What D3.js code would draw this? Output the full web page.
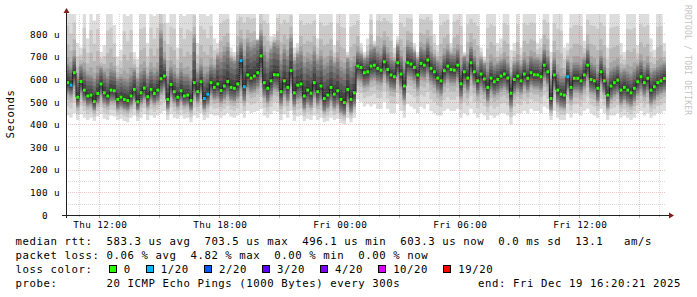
<!DOCTYPE html>
<html>
<head>
<meta charset="utf-8">
<script src="https://cdn.jsdelivr.net/npm/d3@7"></script>
<style>
  html, body { margin: 0; padding: 0; background: #fff; }
  text { font-family: "DejaVu Sans Mono", monospace; white-space: pre; }
</style>
</head>
<body>
<div id="chart"></div>
<script>
// median rtt per 10 min step, in microseconds
const median = [
  585,574,629,521,590,552,526,530,501,537,579,540,526,552,549,511,521,511,506,526,
  555,500,540,561,523,555,537,552,602,614,511,577,545,521,549,526,530,506,585,545,
  589,515,534,585,564,
  579,550,570,590,564,560,579,682,567,619,605,614,629,703,585,560,593,620,619,545,
  593,564,638,540,574,579,526,552,538,585,545,570,515,530,564,534,549,511,497,555,
  511,540,658,652,629,633,
  658,662,648,640,677,643,619,611,673,623,570,673,667,652,619,670,662,685,648,633,
  605,593,638,658,643,640,662,580,633,605,673,633,593,623,601,564,605,589,599,614,
  623,605,538,599,614,
  593,623,604,629,620,619,611,662,633,515,619,552,534,530,611,564,604,604,593,619,
  662,599,593,560,633,593,530,570,585,596,552,564,552,540,560,589,611,585,604,552,
  567,585,593,603
];
// upper quartile of the 20 pings
const upperQ = [
  665,650,700,610,660,640,620,615,600,625,650,630,610,640,635,600,610,600,595,615,
  640,600,630,645,610,640,625,640,800,690,610,650,630,610,640,620,620,600,780,630,
  660,620,630,660,650,
  700,690,720,740,690,680,720,760,700,760,740,750,770,800,720,690,730,760,750,680,
  730,700,780,680,710,720,670,690,680,720,680,700,660,670,700,670,690,650,640,690,
  650,670,720,710,690,700,
  730,740,720,710,750,715,690,680,750,700,650,750,740,720,690,740,730,760,720,700,
  680,670,710,730,710,710,730,660,700,680,740,700,660,690,670,640,680,660,670,680,
  690,670,620,670,680,
  660,690,670,700,690,690,680,730,700,600,690,630,610,610,680,640,670,670,660,690,
  730,670,660,630,700,660,610,640,650,660,630,640,630,620,640,660,680,650,670,630,
  640,650,660,670
];
// lower quartile of the 20 pings
const lowerQ = [
  540,530,570,480,540,505,485,490,465,495,530,495,485,505,505,470,480,470,465,485,
  510,465,495,515,480,510,495,505,540,560,470,525,500,480,505,485,490,465,530,500,
  540,470,490,535,515,
  520,500,515,530,510,505,520,560,505,560,545,550,565,600,525,500,530,560,555,490,
  530,505,570,485,515,520,470,495,480,525,490,510,460,475,505,475,490,455,445,495,
  455,485,600,595,570,575,
  600,605,590,585,620,585,560,555,615,565,510,615,610,595,560,610,605,625,590,575,
  550,535,580,600,585,585,605,520,575,550,615,575,535,565,545,505,550,530,540,555,
  565,550,480,540,555,
  540,570,550,575,565,565,555,605,580,465,565,495,480,475,555,510,550,550,540,565,
  605,545,540,505,580,540,475,515,530,540,495,510,495,485,505,535,555,530,550,495,
  510,530,540,550
];
// fastest ping
const minPing = [
  440,430,450,420,445,430,420,430,415,435,445,425,420,440,435,420,425,415,410,430,
  440,415,430,445,420,440,430,440,450,460,420,445,430,425,440,425,430,410,440,430,
  450,420,430,445,440,
  440,430,440,450,435,430,440,450,430,460,450,455,460,470,440,430,445,460,455,420,
  445,430,460,415,435,440,415,425,420,440,420,430,410,415,430,420,425,405,400,430,
  410,430,510,500,480,490,
  480,490,470,470,500,470,450,450,490,460,430,490,480,470,450,480,470,490,460,450,
  440,440,460,470,460,460,470,430,450,440,470,450,430,450,440,420,440,430,440,450,
  450,440,400,440,450,
  450,460,450,470,460,460,450,480,470,420,460,430,420,420,450,430,450,450,440,460,
  470,450,440,430,470,450,420,440,440,450,430,440,430,420,430,450,460,440,450,430,
  440,450,450,460
];
// slowest ping (950 = off the top of the graph)
const maxPing = [
  950,900,950,760,740,950,780,950,860,950,720,750,950,950,840,700,730,950,880,950,
  720,690,950,950,760,950,880,950,950,950,850,950,950,740,950,880,950,950,950,760,
  950,950,880,950,780,
  760,950,950,950,740,720,950,950,950,950,950,950,780,950,950,950,790,800,950,950,
  950,950,950,740,760,950,950,950,950,950,780,950,950,950,950,750,950,950,950,720,
  950,950,950,760,720,780,
  950,770,950,950,950,950,950,740,790,950,950,950,950,760,720,950,950,950,950,800,
  750,950,950,950,760,950,950,950,720,950,950,950,950,740,700,950,950,950,760,780,
  950,950,730,760,950,
  740,950,950,950,950,760,780,950,950,720,950,950,950,740,760,950,950,950,950,770,
  950,950,950,950,950,950,740,950,950,950,760,720,950,950,950,750,950,950,950,780,
  730,950,950,760
];
// steps with lost pings
const lossIdx = [1, 41, 42, 52, 53, 150];
const lossCnt = [1, 1, 1, 1, 1, 1];

const yTicks = [0, 100, 200, 300, 400, 500, 600, 700, 800];
const lossLabels = ["0", "1/20", "2/20", "3/20", "4/20", "10/20", "19/20"];
const lossSteps = [0, 1, 2, 3, 4, 10, 19];
const lossColors = ["#26ff00", "#00b8ff", "#0059ff", "#5e00ff", "#7e00ff", "#dd00ff", "#ff0000"];

const legendRtt = "median rtt:  583.3 us avg  703.5 us max  496.1 us min  603.3 us now  0.0 ms sd  13.1   am/s";
const legendLoss = "packet loss: 0.06 % avg  4.82 % max  0.00 % min  0.00 % now";
const legendProbe = "probe:       20 ICMP Echo Pings (1000 Bytes) every 300s";
const legendEnd = "end: Fri Dec 19 16:20:21 2025";

const W = 697, H = 297;
const pL = 66, pR = 666, pT = 14, pB = 215;
const stepMs = 10 * 60 * 1000;
const endT = new Date(2025, 11, 19, 16, 20, 21);
const startT = new Date(endT.getTime() - median.length * stepMs);

const x = d3.scaleTime().domain([startT, endT]).range([pL, pR]);
const y = d3.scaleLinear().domain([0, 888.3]).range([pB, pT]);

// 20 sorted pings per step, spread between the read anchors
function pings(i) {
  const lo = minPing[i], d = lowerQ[i], m = median[i], u = upperQ[i], hi = maxPing[i];
  const out = [];
  for (let r = 1; r <= 20; r++) {
    let v;
    if (r >= 15.5) v = u + (hi - u) * Math.pow((r - 15.5) / 4.5, 2);
    else if (r >= 10.5) v = m + (u - m) * (r - 10.5) / 5;
    else if (r >= 5.5) v = d + (m - d) * (r - 5.5) / 5;
    else v = d - (d - lo) * Math.pow((5.5 - r) / 4.5, 2);
    out.push(v);
  }
  return out;
}

const lossAt = new Map(lossIdx.map((k, j) => [k, lossCnt[j]]));
const rows = median.map((m, i) => ({
  t: new Date(startT.getTime() + i * stepMs),
  m: m,
  p: pings(i),
  loss: lossAt.get(i) || 0
}));
const areaRows = rows.concat([{ t: endT, m: rows[rows.length - 1].m, p: rows[rows.length - 1].p }]);

function lossColor(n) {
  let c = lossColors[0];
  lossSteps.forEach((s, j) => { if (n >= s) c = lossColors[j]; });
  return c;
}

const svg = d3.select("#chart").append("svg")
  .attr("width", W).attr("height", H)
  .style("display", "block");

svg.append("rect").attr("width", W).attr("height", H).attr("fill", "#fff");

svg.append("clipPath").attr("id", "plot")
  .append("rect").attr("x", pL).attr("y", pT)
  .attr("width", pR - pL).attr("height", pB - pT);

const plot = svg.append("g").attr("clip-path", "url(#plot)");

// smoke: band k goes from ping k to ping 21-k
for (let k = 1; k <= 10; k++) {
  const g = Math.floor(190 / 10 * (10 - k)) + 50;
  const area = d3.area()
    .x(d => x(d.t))
    .y0(d => y(d.p[k - 1]))
    .y1(d => y(d.p[20 - k]))
    .curve(d3.curveStepAfter);
  plot.append("path")
    .datum(areaRows)
    .attr("d", area)
    .attr("fill", d3.rgb(g, g, g));
}

// grid over the smoke
const majorCol = "rgba(222,79,79,0.33)";
const minorCol = "rgba(143,143,143,0.33)";
const grid = svg.append("g").attr("fill", "none").attr("stroke-dasharray", "1,1");
d3.range(50, 889, 50).forEach(v => {
  grid.append("line")
    .attr("x1", pL).attr("x2", pR)
    .attr("y1", Math.round(y(v)) + 0.5).attr("y2", Math.round(y(v)) + 0.5)
    .attr("stroke", v % 100 === 0 ? majorCol : minorCol);
});
const hours = d3.timeHour.every(1).range(startT, endT);
hours.forEach(h => {
  const major = h.getHours() % 3 === 0;
  const px = Math.round(x(h)) + 0.5;
  grid.append("line")
    .attr("x1", px).attr("x2", px)
    .attr("y1", pT).attr("y2", pB)
    .attr("stroke", major ? majorCol : minorCol);
  svg.append("line")
    .attr("x1", px).attr("x2", px)
    .attr("y1", pB).attr("y2", pB + (major ? 3 : 2))
    .attr("stroke", major ? "rgba(222,79,79,0.6)" : "rgba(143,143,143,0.5)");
});

// median: dark connecting line + loss coloured marks
plot.append("path")
  .datum(areaRows)
  .attr("d", d3.line().x(d => x(d.t)).y(d => y(d.m)).curve(d3.curveStepAfter))
  .attr("fill", "none")
  .attr("stroke", "#202020")
  .attr("stroke-width", 1);

plot.selectAll("rect.med")
  .data(rows)
  .join("rect")
  .attr("class", "med")
  .attr("x", d => x(d.t) + 0.3)
  .attr("y", d => y(d.m) - 1.5)
  .attr("width", 2.8)
  .attr("height", 3)
  .attr("fill", d => lossColor(d.loss));

// axes
svg.append("line")
  .attr("x1", 62).attr("x2", 669).attr("y1", pB + 0.5).attr("y2", pB + 0.5)
  .attr("stroke", "#202020");
svg.append("line")
  .attr("x1", pL + 0.5).attr("x2", pL + 0.5).attr("y1", pB + 3).attr("y2", 12)
  .attr("stroke", "#202020");
svg.append("path").attr("d", "M63.5,13L69.5,13L66.5,8Z").attr("fill", "#801f1f");
svg.append("path").attr("d", "M669,212.5L669,218.5L674,215.5Z").attr("fill", "#801f1f");

// y tick labels
svg.selectAll("text.ylab")
  .data(yTicks)
  .join("text")
  .attr("class", "ylab")
  .attr("x", 30)
  .attr("y", d => y(d) + 3.7)
  .attr("font-size", 9.33)
  .attr("letter-spacing", 0.38)
  .text(d => d === 0 ? "  0" : d + " u");

// x tick labels
const fmt = d3.timeFormat("%a %H:%M");
svg.selectAll("text.xlab")
  .data(hours.filter(h => h.getHours() % 6 === 0))
  .join("text")
  .attr("class", "xlab")
  .attr("x", d => x(d) + 1)
  .attr("y", 227.5)
  .attr("text-anchor", "middle")
  .attr("font-size", 9.33)
  .attr("letter-spacing", 0.38)
  .text(fmt);

// axis title
svg.append("text")
  .attr("transform", "translate(14,114) rotate(-90)")
  .attr("text-anchor", "middle")
  .attr("font-size", 10.67)
  .attr("letter-spacing", 0.58)
  .text("Seconds");

// watermark
svg.append("text")
  .attr("transform", "translate(685,5) rotate(90)")
  .attr("font-size", 8)
  .attr("letter-spacing", 0.2)
  .attr("fill", "#c4c4c4")
  .text("RRDTOOL / TOBI OETIKER");

// legend
const leg = svg.append("g").attr("font-size", 10.67).attr("letter-spacing", 0.58);
leg.append("text").attr("x", 15.5).attr("y", 245).text(legendRtt);
leg.append("text").attr("x", 15.5).attr("y", 258.5).text(legendLoss);
leg.append("text").attr("x", 15.5).attr("y", 272.5).text("loss color:");
leg.append("text").attr("x", 15.5).attr("y", 286.5).text(legendProbe);
leg.append("text").attr("x", 478).attr("y", 286.5).text(legendEnd);

let cursor = 108.8;
lossLabels.forEach((lab, j) => {
  leg.append("rect")
    .attr("x", Math.round(cursor) + 0.5).attr("y", 265.5)
    .attr("width", 7).attr("height", 7)
    .attr("fill", lossColors[j]).attr("stroke", "#000");
  leg.append("text").attr("x", cursor + 15).attr("y", 272.5).text(lab);
  cursor = cursor + 15 + lab.length * 7.02 + 15;
});
</script>
</body>
</html>
